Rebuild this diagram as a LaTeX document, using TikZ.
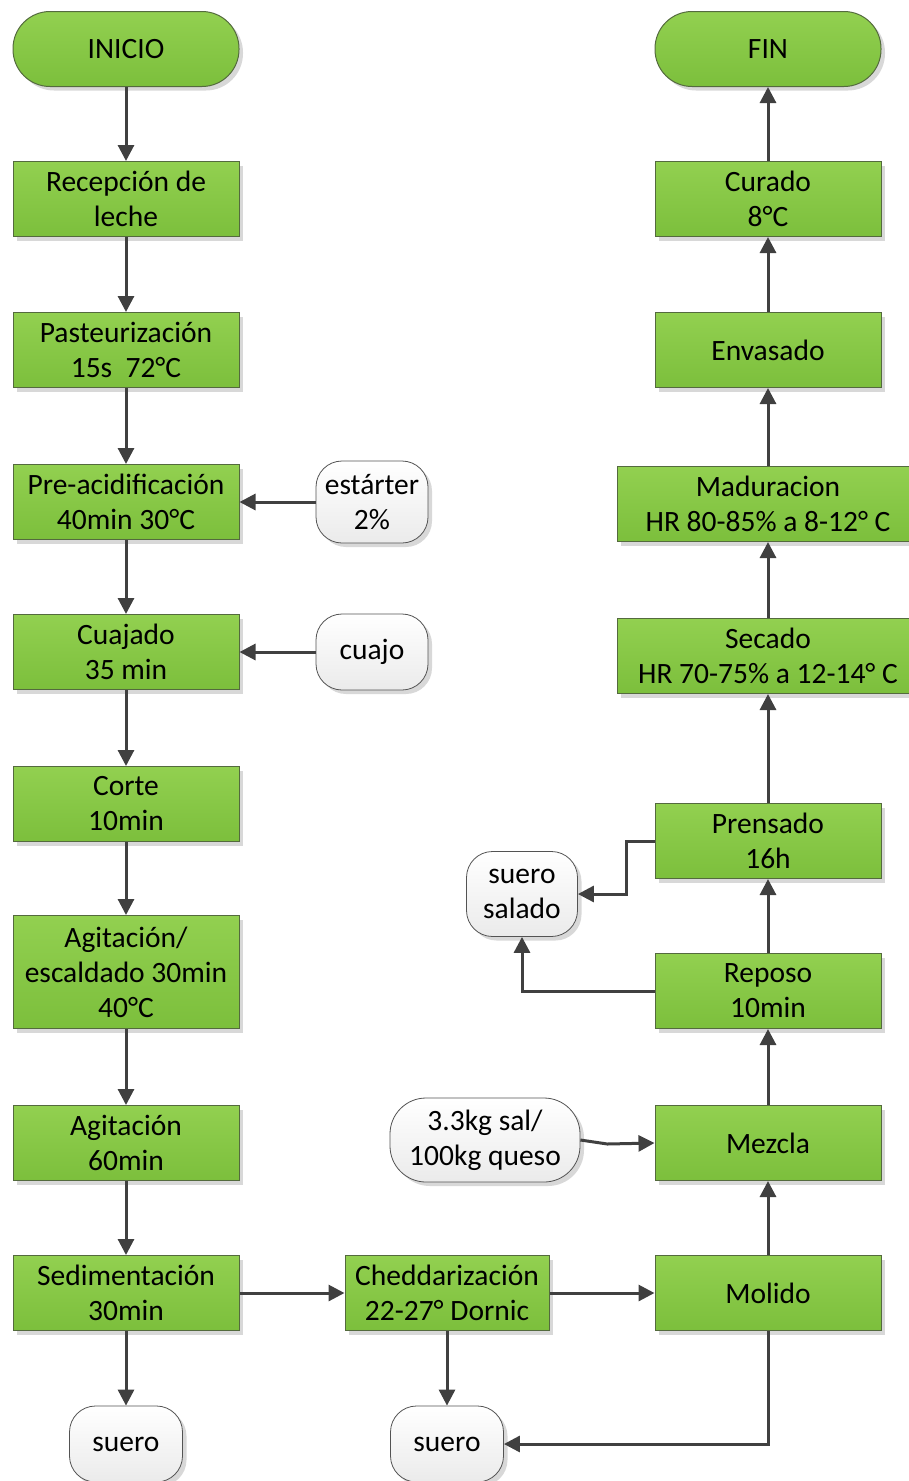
\documentclass[tikz,border=0pt]{standalone}
\usepackage{fontspec}
\setmainfont{Carlito}
\usetikzlibrary{arrows.meta, shadows}
\definecolor{verde}{RGB}{146,208,80}
\definecolor{verdeosc}{RGB}{124,191,60}
\definecolor{borde}{RGB}{84,106,62}
\definecolor{gris}{RGB}{64,64,64}

\begin{document}
\begin{tikzpicture}[x=1pt, y=-1pt,
    texto/.style={font=\fontsize{29.5}{35}\selectfont, align=center, inner sep=0pt},
    sombra/.style={drop shadow={shadow xshift=4pt, shadow yshift=-4pt, fill=black!30}},
    paso/.style={texto, sombra, rectangle, draw=borde, line width=1pt,
        top color=verde, bottom color=verdeosc,
        minimum width=226pt, minimum height=75pt},
    ancho/.style={paso, minimum width=302pt},
    inifin/.style={paso, rounded corners=37pt},
    salida/.style={texto, sombra, rectangle, draw=gris!90, line width=0.8pt,
        top color=white, bottom color=black!8,
        minimum width=113pt, minimum height=76pt, rounded corners=26pt},
    flecha/.style={-{Triangle[length=16pt, width=16pt]}, gris, line width=3pt}]
    \useasboundingbox (0,0) rectangle (909,1481);

    % columna izquierda
    \node[inifin] (inicio) at (126,49) {INICIO};
    \node[paso] (recep) at (126,199) {Recepción de\\leche};
    \node[paso] (past) at (126,350) {Pasteurización\\15s~~72°C};
    \node[paso] (preac) at (126,502) {Pre-acidificación\\40min 30°C};
    \node[paso] (cuaj) at (126,652) {Cuajado\\35 min};
    \node[paso] (corte) at (126,804) {Corte\\10min};
    \node[paso, minimum height=113pt] (agit) at (126,972) {Agitación/\\escaldado 30min\\40°C};
    \node[paso] (agit2) at (126,1143) {Agitación\\60min};
    \node[paso] (sedim) at (126,1293) {Sedimentación\\30min};
    \node[salida] (suero) at (126,1444) {suero};

    % columna central
    \node[salida, minimum width=112pt, minimum height=82pt] (estar) at (372,502) {estárter\\2\%};
    \node[salida, minimum width=112pt] (cuajo) at (372,652) {cuajo};
    \node[paso, minimum width=204pt] (chedd) at (447,1293) {Cheddarización\\22-27° Dornic};
    \node[salida] (suerob) at (447,1444) {suero};
    \node[salida, minimum width=111pt, minimum height=85pt] (salado) at (522,894) {suero\\salado};
    \node[salida, minimum width=190pt, minimum height=84pt, rounded corners=36pt] (sal) at (485,1140) {3.3kg sal/\\100kg queso};

    % columna derecha
    \node[inifin] (fin) at (768,49) {FIN};
    \node[paso] (curado) at (768,199) {Curado\\8°C};
    \node[paso] (envas) at (768,350) {Envasado};
    \node[ancho] (madur) at (768,504) {Maduracion\\HR 80-85\% a 8-12° C};
    \node[ancho] (secado) at (768,656) {Secado\\HR 70-75\% a 12-14° C};
    \node[paso] (prens) at (768,841) {Prensado\\16h};
    \node[paso] (reposo) at (768,991) {Reposo\\10min};
    \node[paso] (mezcla) at (768,1143) {Mezcla};
    \node[paso] (molido) at (768,1293) {Molido};

    \foreach \a/\b in {inicio/recep, recep/past, past/preac, preac/cuaj, cuaj/corte,
        corte/agit, agit/agit2, agit2/sedim, sedim/suero, estar/preac, cuajo/cuaj,
        sedim/chedd, chedd/molido, chedd/suerob, molido/mezcla, mezcla/reposo,
        reposo/prens, prens/secado, secado/madur, madur/envas, envas/curado, curado/fin}
        \draw[flecha] (\a) -- (\b);

    \draw[flecha] (molido.south) |- (suerob.east);
    \draw[flecha] (prens.west) -- ++(-28,0) |- (salado.east);
    \draw[flecha] (reposo.west) -| (salado.south);
    \draw[flecha] (sal.east) -- ++(27,4) -- (mezcla.west);
\end{tikzpicture}
\end{document}
